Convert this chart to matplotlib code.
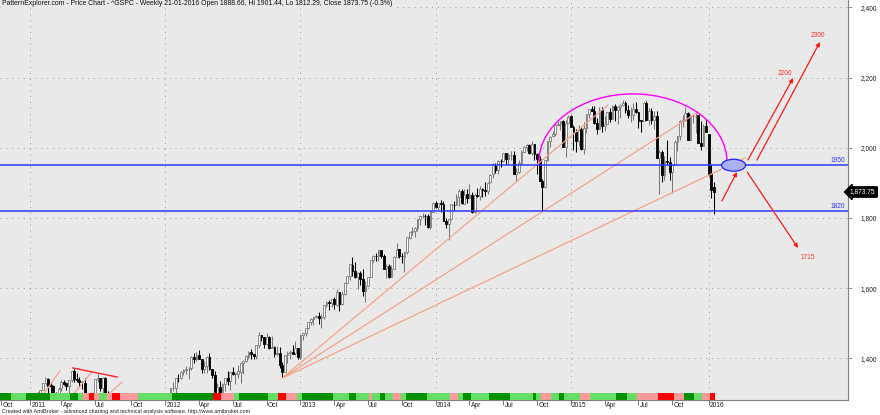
import matplotlib
matplotlib.use("Agg")
import matplotlib.pyplot as plt
import matplotlib.transforms as mtransforms
from matplotlib.patches import Arc, Ellipse, Rectangle
import numpy as np
import pandas as pd

plt.rcParams['font.family'] = ['Liberation Sans', 'DejaVu Sans']

# ---------------------------------------------------------------
# ^GSPC weekly bars (week ending Friday), Oct 2010 - Jan 2016
# ---------------------------------------------------------------
weeks = pd.date_range('2010-10-22', periods=275, freq='W-FRI')

opens = [
    # 2010
    1180, 1184, 1185, 1226, 1200, 1200, 1190, 1225, 1241, 1244, 1256,
    # 2011
    1258, 1272, 1293, 1284, 1277, 1311, 1329, 1340, 1322, 1322, 1302, 1281,
    1315, 1333, 1329, 1320, 1338, 1365, 1340, 1337, 1333, 1331, 1300, 1271, 1272,
    1268, 1340, 1343, 1316, 1345, 1293, 1199, 1179, 1124, 1177, 1174, 1153, 1214, 1136,
    1131, 1158, 1224, 1238, 1285, 1253, 1264, 1215, 1161, 1244, 1256, 1220, 1265,
    # 2012
    1258, 1278, 1290, 1315, 1316, 1344, 1343, 1361, 1366, 1370, 1371, 1405, 1398,
    1409, 1397, 1370, 1379, 1404, 1369, 1352, 1296, 1318, 1278, 1326, 1343, 1335,
    1362, 1354, 1356, 1362, 1386, 1391, 1405, 1418, 1411, 1406, 1438, 1466, 1460,
    1441, 1461, 1428, 1433, 1412, 1414, 1380, 1360, 1409, 1416, 1418, 1414, 1430,
    # 2013
    1402, 1466, 1472, 1486, 1503, 1513, 1518, 1520, 1516, 1518, 1551, 1561, 1557,
    1569, 1553, 1588, 1555, 1583, 1614, 1634, 1667, 1650, 1631, 1643, 1627, 1592,
    1607, 1632, 1680, 1692, 1692, 1709, 1691, 1656, 1663, 1633, 1655, 1688, 1710,
    1691, 1690, 1703, 1744, 1760, 1762, 1770, 1798, 1805, 1806, 1805, 1775, 1818,
    # 2014
    1842, 1832, 1842, 1839, 1790, 1783, 1797, 1838, 1836, 1859, 1878, 1841, 1867,
    1858, 1865, 1816, 1865, 1863, 1881, 1878, 1878, 1901, 1924, 1949, 1936, 1963,
    1961, 1985, 1968, 1978, 1978, 1925, 1932, 1955, 1988, 2003, 2007, 1986, 2010,
    1983, 1968, 1906, 1887, 1965, 2018, 2032, 2040, 2064, 2068, 2075, 2002, 2071,
    # 2015
    2089, 2058, 2045, 2019, 2052, 1995, 2055, 2097, 2110, 2105, 2071, 2053, 2108,
    2061, 2067, 2102, 2081, 2118, 2108, 2116, 2123, 2126, 2107, 2093, 2094, 2110,
    2101, 2077, 2077, 2127, 2080, 2104, 2078, 2091, 1971, 1989, 1921, 1961, 1958,
    1931, 1951, 2015, 2033, 2075, 2079, 2099, 2023, 2089, 2090, 2092, 2012, 2006, 2061,
    # 2016
    2038, 1924, 1888.66,
]

highs = [
    1189.4, 1196.1, 1227.1, 1226.8, 1207.4, 1200.0, 1225.6, 1240.4, 1246.7, 1259.0, 1262.6,
    1278.2, 1293.2, 1296.1, 1302.7, 1311.0, 1330.8, 1344.1, 1342.8, 1332.3, 1325.0, 1303.0, 1319.2,
    1337.9, 1338.8, 1330.0, 1337.5, 1364.6, 1370.6, 1359.4, 1346.8, 1334.0, 1345.2, 1300.6, 1292.5, 1298.6,
    1341.0, 1356.5, 1344.0, 1347.0, 1346.0, 1307.4, 1199.0, 1208.5, 1190.7, 1230.7, 1204.4, 1220.1, 1220.4,
    1195.9, 1171.4, 1224.6, 1239.0, 1292.7, 1285.4, 1277.6, 1264.3, 1215.7, 1255.0, 1267.1, 1256.0, 1265.4, 1265.9,
    1284.6, 1296.8, 1315.5, 1333.5, 1345.3, 1354.3, 1363.0, 1368.1, 1378.0, 1374.8, 1405.9, 1414.0, 1419.2,
    1422.4, 1397.0, 1392.8, 1406.6, 1415.3, 1369.0, 1363.0, 1328.5, 1334.9, 1329.0, 1343.3, 1363.5, 1362.2,
    1374.8, 1357.3, 1380.4, 1389.2, 1394.2, 1409.1, 1420.0, 1426.7, 1413.5, 1438.0, 1474.5, 1467.1, 1460.6,
    1470.9, 1464.0, 1464.0, 1434.0, 1434.3, 1433.4, 1388.8, 1409.2, 1420.0, 1423.7, 1438.6, 1448.0, 1430.7,
    1467.9, 1472.3, 1486.0, 1503.3, 1514.4, 1518.3, 1524.7, 1530.9, 1525.3, 1552.5, 1563.3, 1564.9, 1570.3,
    1573.7, 1597.4, 1588.9, 1592.6, 1618.5, 1635.0, 1667.5, 1687.2, 1674.2, 1646.5, 1648.7, 1654.2, 1620.1,
    1632.1, 1680.2, 1693.1, 1698.8, 1709.7, 1709.2, 1696.8, 1669.5, 1669.7, 1664.8, 1691.0, 1729.9, 1711.0,
    1700.7, 1703.4, 1745.3, 1759.8, 1775.2, 1774.5, 1798.2, 1804.8, 1813.6, 1810.0, 1811.0, 1823.8, 1844.9,
    1849.4, 1843.2, 1850.8, 1849.3, 1798.8, 1798.0, 1838.6, 1847.5, 1867.9, 1883.6, 1882.4, 1883.6, 1883.0,
    1897.3, 1872.4, 1869.6, 1884.9, 1891.3, 1885.0, 1902.2, 1901.3, 1924.0, 1955.6, 1955.6, 1963.9, 1968.2,
    1985.6, 1985.6, 1983.9, 1991.4, 1991.4, 1942.9, 1964.0, 1994.8, 2005.0, 2011.2, 2009.3, 2019.3, 2010.7,
    1985.2, 1977.4, 1912.1, 1965.3, 2018.2, 2034.3, 2046.2, 2071.5, 2075.8, 2075.8, 2077.8, 2077.9, 2093.6,
    2093.0, 2064.4, 2054.4, 2064.6, 2057.6, 2072.4, 2097.0, 2110.6, 2119.6, 2117.5, 2083.5, 2114.9, 2114.9,
    2089.8, 2102.6, 2111.9, 2120.9, 2125.9, 2117.7, 2123.9, 2134.7, 2132.5, 2121.9, 2115.0, 2126.7, 2129.9,
    2102.0, 2078.0, 2129.9, 2132.8, 2114.2, 2112.7, 2105.4, 2103.5, 1993.5, 1993.5, 1975.0, 2020.9, 1974.0,
    1951.4, 2020.9, 2034.0, 2079.7, 2094.3, 2116.5, 2100.7, 2097.1, 2095.6, 2104.3, 2093.8, 2076.7, 2067.5, 2081.6,
    2038.2, 1950.3, 1901.44,
]

lows = [
    1171.2, 1177.7, 1177.6, 1194.1, 1173.0, 1176.9, 1174.0, 1217.3, 1232.9, 1243.0, 1251.5,
    1257.6, 1262.7, 1275.1, 1275.9, 1276.3, 1310.5, 1325.0, 1294.3, 1299.6, 1291.0, 1249.1, 1281.0,
    1307.4, 1324.9, 1309.5, 1294.7, 1331.2, 1332.4, 1332.3, 1318.5, 1311.8, 1299.5, 1268.6, 1262.9, 1262.7,
    1265.6, 1333.9, 1305.5, 1295.9, 1282.9, 1168.1, 1101.5, 1121.1, 1122.1, 1170.3, 1153.2, 1136.2, 1114.2,
    1131.1, 1074.8, 1158.3, 1191.5, 1220.8, 1215.4, 1226.6, 1206.2, 1158.7, 1158.7, 1231.5, 1209.5, 1202.4, 1248.6,
    1258.0, 1274.4, 1289.5, 1306.1, 1300.5, 1333.8, 1340.0, 1352.3, 1354.9, 1340.0, 1365.9, 1386.9, 1391.6,
    1397.1, 1357.4, 1358.8, 1358.8, 1367.9, 1343.4, 1291.0, 1295.7, 1277.8, 1266.7, 1306.6, 1324.4, 1309.3,
    1352.8, 1325.4, 1345.1, 1329.2, 1354.7, 1390.0, 1397.7, 1398.0, 1397.0, 1396.6, 1429.1, 1449.6, 1430.5,
    1439.0, 1425.5, 1428.6, 1403.3, 1405.9, 1373.0, 1343.4, 1360.0, 1385.4, 1398.1, 1411.9, 1410.0, 1398.1,
    1398.1, 1451.6, 1463.8, 1482.3, 1495.0, 1495.0, 1513.6, 1497.3, 1485.0, 1512.3, 1547.4, 1538.6, 1546.2,
    1539.5, 1548.1, 1536.0, 1552.9, 1581.3, 1613.3, 1623.7, 1635.7, 1628.9, 1598.2, 1608.1, 1577.7, 1560.3,
    1604.6, 1631.9, 1674.6, 1676.0, 1678.6, 1684.9, 1654.2, 1627.5, 1627.5, 1633.0, 1654.5, 1688.0, 1687.1,
    1670.4, 1646.5, 1696.8, 1740.5, 1752.7, 1746.2, 1761.6, 1780.0, 1799.2, 1779.1, 1772.3, 1767.9, 1817.5,
    1827.7, 1823.7, 1815.5, 1790.3, 1770.5, 1737.9, 1794.6, 1821.7, 1835.5, 1834.4, 1839.6, 1839.5, 1842.8,
    1857.6, 1814.4, 1815.0, 1859.7, 1851.7, 1859.8, 1862.3, 1868.8, 1900.5, 1915.0, 1929.1, 1925.8, 1944.7,
    1958.2, 1952.9, 1952.9, 1965.1, 1925.1, 1904.8, 1928.3, 1954.5, 1987.5, 1990.1, 1983.4, 1978.6, 1965.0,
    1926.0, 1906.1, 1820.7, 1886.0, 1961.5, 2001.0, 2030.2, 2034.5, 2062.4, 2049.6, 2002.3, 1972.6, 2069.3,
    2057.6, 1992.4, 1988.1, 2004.5, 1994.5, 1980.9, 2041.9, 2085.4, 2103.8, 2067.3, 2039.7, 2052.5, 2045.8,
    2048.4, 2066.7, 2072.4, 2080.5, 2077.1, 2067.9, 2085.6, 2117.7, 2099.1, 2085.7, 2072.1, 2077.6, 2097.5,
    2056.3, 2044.0, 2075.5, 2077.9, 2063.5, 2067.0, 2052.1, 1970.9, 1867.0, 1903.1, 1909.0, 1953.1, 1908.8,
    1871.9, 1950.5, 1990.7, 2021.6, 2059.5, 2077.0, 2022.9, 2019.4, 2070.3, 2042.4, 2012.4, 1993.3, 2005.0, 2043.6,
    1918.5, 1857.8, 1812.29,
]

closes = [
    1183.1, 1183.3, 1225.9, 1199.2, 1199.7, 1189.4, 1224.7, 1240.4, 1243.9, 1256.8, 1257.6,
    1271.5, 1293.2, 1283.4, 1276.3, 1310.9, 1329.2, 1343.0, 1319.9, 1321.2, 1304.3, 1279.2, 1313.8,
    1332.4, 1328.2, 1319.7, 1337.4, 1363.6, 1340.2, 1337.8, 1333.3, 1331.1, 1300.2, 1271.0, 1271.5, 1268.5,
    1339.7, 1343.8, 1316.1, 1345.0, 1292.3, 1199.4, 1178.8, 1123.5, 1176.8, 1174.0, 1154.2, 1216.0, 1136.4,
    1131.4, 1155.5, 1224.6, 1238.3, 1285.1, 1253.2, 1263.9, 1215.7, 1158.7, 1244.3, 1255.2, 1219.7, 1265.3, 1257.6,
    1277.8, 1289.1, 1315.4, 1316.3, 1344.9, 1342.6, 1361.2, 1365.7, 1369.6, 1370.9, 1404.2, 1397.1, 1408.5,
    1398.1, 1370.3, 1378.5, 1403.4, 1369.1, 1353.4, 1295.2, 1317.8, 1278.0, 1325.7, 1342.8, 1335.0, 1362.2,
    1354.7, 1356.8, 1362.7, 1386.0, 1391.0, 1405.9, 1418.2, 1411.1, 1406.6, 1437.9, 1465.8, 1460.2, 1440.7,
    1460.9, 1428.6, 1433.2, 1411.9, 1414.2, 1379.9, 1359.9, 1409.2, 1416.2, 1418.1, 1413.6, 1430.2, 1402.4,
    1466.5, 1472.1, 1486.0, 1503.0, 1513.2, 1517.9, 1519.8, 1515.6, 1518.2, 1551.2, 1560.7, 1556.9, 1569.2,
    1553.3, 1588.9, 1555.3, 1582.2, 1614.4, 1633.7, 1667.5, 1649.6, 1630.7, 1643.4, 1626.7, 1592.4, 1606.3,
    1631.9, 1680.2, 1692.1, 1691.7, 1709.7, 1691.4, 1655.8, 1663.5, 1633.0, 1655.2, 1688.0, 1709.9, 1691.8,
    1690.5, 1703.2, 1744.5, 1759.8, 1761.6, 1770.6, 1798.2, 1804.8, 1805.8, 1805.1, 1775.3, 1818.3, 1841.4,
    1831.4, 1842.4, 1838.7, 1790.3, 1782.6, 1797.0, 1838.6, 1836.3, 1859.5, 1878.0, 1841.1, 1866.5, 1857.6,
    1865.1, 1815.7, 1864.9, 1863.4, 1881.1, 1878.5, 1877.9, 1900.5, 1923.6, 1949.4, 1936.2, 1962.9, 1961.0,
    1985.4, 1967.6, 1978.2, 1978.3, 1925.2, 1931.6, 1955.1, 1988.4, 2003.4, 2007.7, 1985.5, 2010.4, 1982.9,
    1967.9, 1906.1, 1886.8, 1964.6, 2018.1, 2031.9, 2039.8, 2063.5, 2067.6, 2075.4, 2002.3, 2070.7, 2088.8,
    2058.2, 2044.8, 2019.4, 2051.8, 1995.0, 2055.5, 2097.0, 2110.3, 2104.5, 2071.3, 2053.4, 2108.1, 2061.0,
    2067.0, 2102.1, 2081.2, 2117.7, 2108.3, 2116.1, 2122.7, 2126.1, 2107.4, 2092.8, 2094.1, 2110.0, 2101.5,
    2076.8, 2076.6, 2126.6, 2079.7, 2103.8, 2077.6, 2091.5, 1970.9, 1988.9, 1921.2, 1961.1, 1958.0, 1931.3,
    1951.4, 2014.9, 2033.1, 2075.2, 2079.4, 2099.2, 2023.0, 2089.2, 2090.1, 2091.7, 2012.4, 2005.6, 2061.0, 2043.9,
    1922.0, 1880.3, 1873.75,
]

# colour ribbon under the bars (D dark green, L light green, P pink, R red), run lengths in bars
ribbon_states = "DLDLDLPRPLPRPLDRPLDLRPLDLDLPLDLPLDLPLDLDLDLPLDLPLDLPRPDLPR"
ribbon_counts = [4, 6, 9, 8, 3, 2, 2, 2, 2, 3, 2, 3, 7, 13, 16, 3, 5, 2, 11, 4, 3, 4, 2, 12,
                 6, 3, 5, 1, 3, 2, 3, 3, 2, 8, 9, 3, 2, 3, 7, 8, 9, 1, 2, 4, 3, 2, 6, 4, 10,
                 4, 4, 8, 6, 4, 4, 3, 3, 2]
ribbon_colors = {'D': '#009000', 'L': '#66dd66', 'P': '#ff9a9a', 'R': '#ff0000'}

# drawn studies: (bar index, price)
fan_origin = (108, 1343.4)
fan_ends = [(233.3, 2121.6), (267.9, 2101.7), (286.0, 1970.7)]
small_lines_2011 = [((13.5, 1270), (22.5, 1363.8)), ((24.6, 1270), (34.8, 1361)), ((36.9, 1270), (46.4, 1332))]
red_line_2011 = ((27.5, 1372.4), (44.5, 1346.7))
levels = [1950, 1820]
targets = [((287.1, 1965), (304.5, 2198.6), '2200', (301.4, 2212.8)),
           ((290.6, 1965), (314.8, 2301.1), '2300', (314.1, 2321.0)),
           ((286.8, 1930.8), (306.4, 1714.3), '1715', (310.2, 1688.6))]
pullback_arrow = ((277.1, 1848.2), (282.9, 1930.8))

title = ("PatternExplorer.com - Price Chart - ^GSPC - Weekly 21-01-2016 Open 1888.66, "
         "Hi 1901.44, Lo 1812.29, Close 1873.75 (-0.3%)")

# ---------------------------------------------------------------
o = np.array(opens, float)
h = np.array(highs, float)
l = np.array(lows, float)
c = np.array(closes, float)
idx = np.arange(len(c))

fig = plt.figure(figsize=(8.8, 4.15), dpi=100)
fig.patch.set_facecolor('white')
ax = fig.add_axes([0, 15 / 415, 848 / 880, 400 / 415])
ax.set_facecolor('#e9e9e9')
ax.set_xlim(-0.54, 325.6)
ax.set_ylim(1281.2, 2420.8)

# grid
grid_kw = dict(color='#9a9a9a', lw=0.7, linestyle=(0, (1, 5)), zorder=1)
for v in range(1400, 2401, 200):
    ax.axhline(v, **grid_kw)

# month ticks from bar dates (a week ending on Jan 1 is dated Dec 31)
bar_dates = [d - pd.Timedelta(days=1) if (d.month == 1 and d.day == 1) else d for d in weeks]
tick_pos, tick_lab, year_pos = [0], ['Oct'], []
for i in range(1, len(bar_dates)):
    if bar_dates[i].month != bar_dates[i - 1].month and bar_dates[i].month in (1, 4, 7, 10):
        tick_pos.append(i)
        if bar_dates[i].month == 1:
            tick_lab.append(str(bar_dates[i].year))
            year_pos.append(i)
        else:
            tick_lab.append(bar_dates[i].strftime('%b'))
for p in year_pos:
    ax.axvline(p, **grid_kw)

# candles
up = c >= o
ax.vlines(idx[up], l[up], h[up], color='#7a7a7a', lw=0.75, zorder=3)
ax.vlines(idx[~up], l[~up], h[~up], color='black', lw=0.75, zorder=3)
body = np.where(np.abs(c - o) < 0.8, 0.8, c - o)
ax.bar(idx[up], body[up], bottom=o[up], width=0.7, color='white',
       edgecolor='#7a7a7a', linewidth=0.6, zorder=4)
ax.bar(idx[~up], body[~up], bottom=o[~up], width=0.7, color='black',
       edgecolor='black', linewidth=0.6, zorder=4)

# ribbon
trans = mtransforms.blended_transform_factory(ax.transData, ax.transAxes)
trans_y = mtransforms.blended_transform_factory(ax.transAxes, ax.transData)
start = 0
for s, n in zip(ribbon_states, ribbon_counts):
    ax.add_patch(Rectangle((start - 0.5, 0), n, 7 / 400, transform=trans,
                           facecolor=ribbon_colors[s], edgecolor='none', zorder=6))
    start += n

# studies
salmon = '#f3a58a'
for end in fan_ends:
    ax.plot([fan_origin[0], end[0]], [fan_origin[1], end[1]], color=salmon, lw=0.9, zorder=5)
for a, b in small_lines_2011:
    ax.plot([a[0], b[0]], [a[1], b[1]], color=salmon, lw=0.9, zorder=5)
ax.plot([red_line_2011[0][0], red_line_2011[1][0]], [red_line_2011[0][1], red_line_2011[1][1]],
        color='#ff2020', lw=1.0, zorder=5)

for lv in levels:
    ax.axhline(lv, color='#3535ff', lw=1.1, zorder=5)
    ax.text(0.997, lv + 3, str(lv), transform=trans_y, color='#3535ff', fontsize=4.8,
            ha='right', va='bottom', zorder=7)

ax.add_patch(Arc((242.9, 1959.3), 72.3, 388, theta1=0, theta2=180, color='#ff00ff', lw=1.0, zorder=5))
ax.add_patch(Ellipse((281.6, 1950), 9.2, 34, facecolor='#a9b1f2', edgecolor='#2222ff', lw=0.9, zorder=6))

arrow_kw = dict(arrowstyle='-|>', color='#ff1a1a', lw=0.9, mutation_scale=6, shrinkA=0, shrinkB=0)
ax.annotate('', xy=pullback_arrow[1], xytext=pullback_arrow[0], arrowprops=arrow_kw, zorder=7)
for a, b, lab, lp in targets:
    ax.annotate('', xy=b, xytext=a, arrowprops=arrow_kw, zorder=7)
    ax.text(lp[0], lp[1], lab, color='#ff3030', fontsize=4.8, ha='center', va='center', zorder=7)

# axes styling
for side in ('top', 'left'):
    ax.spines[side].set_visible(False)
for side in ('right', 'bottom'):
    ax.spines[side].set_color('#808080')
    ax.spines[side].set_linewidth(0.8)

ax.yaxis.tick_right()
ax.set_yticks(range(1400, 2401, 200))
ax.set_yticklabels([f'{v:,}' for v in range(1400, 2401, 200)])
ax.tick_params(axis='y', direction='out', length=3, width=0.6, color='#808080',
               labelsize=4.8, pad=6, labelcolor='#202020')
ax.set_xticks(tick_pos)
ax.set_xticklabels([])
ax.tick_params(axis='x', direction='out', length=3.5, width=0.6, color='#606060')
for p, lab in zip(tick_pos, tick_lab):
    ax.text(p + 0.5, -0.004, lab, transform=trans, fontsize=4.8, ha='left', va='top', color='#202020')

ax.text(0.002, 0.999, title, transform=ax.transAxes, fontsize=4.95, ha='left', va='top',
        color='#101010', zorder=8,
        bbox=dict(facecolor='#e9e9e9', edgecolor='none', pad=0.6))

fig.text(850 / 880, 1 - 192 / 415, f'{closes[-1]:,.2f}', color='white', fontsize=4.8,
         ha='left', va='center',
         bbox=dict(boxstyle='larrow,pad=0.25', facecolor='black', edgecolor='black'))
fig.text(2 / 880, 4 / 415, 'Created with AmiBroker - advanced charting and technical analysis '
         'software. http://www.amibroker.com', fontsize=3.9, ha='left', va='center', color='#202020')

fig.savefig('out.png', dpi=100)
